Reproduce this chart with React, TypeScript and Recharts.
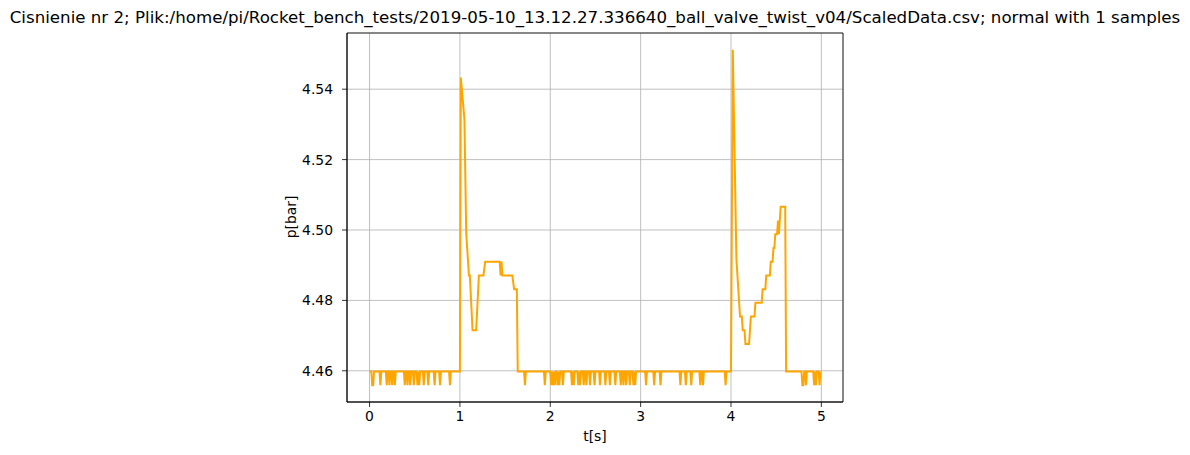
import React from "react";
import {
  LineChart,
  Line,
  XAxis,
  YAxis,
  CartesianGrid,
  ReferenceArea,
} from "recharts";

// pressure levels (sensor steps of ~0.0039 bar)
const BASE = 4.4598;
const LOW = 4.4559;

// times of the one-sample dips on the resting baseline
const dipTimes = [
  0.03, 0.04, 0.12, 0.19, 0.22, 0.25, 0.28, 0.39, 0.42, 0.45, 0.49, 0.53,
  0.55, 0.6, 0.65, 0.72, 0.78, 0.89,
  1.72, 1.94, 2.01, 2.03, 2.05, 2.08, 2.1, 2.14, 2.24, 2.26, 2.31, 2.33,
  2.37, 2.4, 2.44, 2.49, 2.55, 2.61, 2.66, 2.72, 2.78, 2.81, 2.84, 2.88,
  2.92, 2.94, 3.06, 3.15, 3.22, 3.44, 3.5, 3.56, 3.66, 3.69, 3.94,
  4.79, 4.8, 4.83, 4.92, 4.94, 4.98,
];

// first valve opening (~1 s)
const event1Times = [
  1.0, 1.01, 1.05, 1.07, 1.1, 1.11, 1.14, 1.18, 1.21, 1.26, 1.28, 1.44,
  1.45, 1.46, 1.47, 1.58, 1.6, 1.63, 1.64,
];
const event1Values = [
  BASE, 4.5433, 4.5315, 4.499, 4.4871, 4.4871, 4.4715, 4.4715, 4.4871,
  4.4871, 4.491, 4.491, 4.4871, 4.491, 4.4871, 4.4871, 4.4832, 4.4832, BASE,
];

// second valve opening (~4 s)
const event2Times = [
  4.0, 4.02, 4.06, 4.1, 4.12, 4.13, 4.15, 4.16, 4.2, 4.22, 4.26, 4.27, 4.34,
  4.35, 4.38, 4.39, 4.43, 4.44, 4.46, 4.47, 4.48, 4.49, 4.51, 4.52, 4.53,
  4.54, 4.55, 4.6, 4.61,
];
const event2Values = [
  BASE, 4.5512, 4.4917, 4.4754, 4.4754, 4.4715, 4.4715, 4.4676, 4.4676,
  4.4754, 4.4754, 4.4793, 4.4793, 4.4832, 4.4832, 4.4871, 4.4871, 4.491,
  4.491, 4.4949, 4.4949, 4.4988, 4.4988, 4.5027, 4.4988, 4.5027, 4.5066,
  4.5066, BASE,
];

const startTime = 0;
const endTime = 4.99;

const xTicks = [0, 1, 2, 3, 4, 5];
const yTicks = [4.46, 4.48, 4.5, 4.52, 4.54];

const TITLE =
  "Cisnienie nr 2; Plik:/home/pi/Rocket_bench_tests/2019-05-10_13.12.27.336640_ball_valve_twist_v04/ScaledData.csv; normal with 1 samples";

function buildData() {
  const pts = new Map<number, number>();
  const key = (t: number) => Math.round(t * 100);
  pts.set(key(startTime), BASE);
  pts.set(key(endTime), BASE);
  const dipKeys = new Set(dipTimes.map(key));
  dipTimes.forEach((t) => {
    [key(t) - 1, key(t) + 1].forEach((k) => {
      if (!dipKeys.has(k)) pts.set(k, BASE);
    });
  });
  dipTimes.forEach((t) => pts.set(key(t), LOW));
  event1Times.forEach((t, i) => pts.set(key(t), event1Values[i]));
  event2Times.forEach((t, i) => pts.set(key(t), event2Values[i]));
  return Array.from(pts.entries())
    .sort((a, b) => a[0] - b[0])
    .map(([k, p]) => ({ t: k / 100, p }));
}

const data = buildData();

const allP = data.map((d) => d.p);
const pMin = Math.min(...allP);
const pMax = Math.max(...allP);
const pPad = (pMax - pMin) * 0.05;
const tPad = (endTime - startTime) * 0.05;
const xDomain = [startTime - tPad, endTime + tPad];
const yDomain = [pMin - pPad, pMax + pPad];

const FONT = "DejaVu Sans, sans-serif";
const tickStyle = { fontFamily: FONT, fontSize: 13.9, fill: "#000" };

export default function App() {
  return (
    <div
      style={{
        position: "absolute",
        left: 0,
        top: 0,
        width: 1190,
        height: 455,
        background: "#fff",
      }}
    >
      <LineChart
        width={1190}
        height={455}
        data={data}
        margin={{ top: 33, right: 347, bottom: 23, left: 287 }}
      >
        <CartesianGrid stroke="#b0b0b0" strokeWidth={0.8} />
        <XAxis
          dataKey="t"
          type="number"
          domain={xDomain}
          ticks={xTicks}
          allowDataOverflow
          height={30}
          tickSize={5}
          tickMargin={4}
          tick={tickStyle}
          stroke="#000"
          strokeWidth={0.8}
        />
        <YAxis
          type="number"
          domain={yDomain}
          ticks={yTicks}
          allowDataOverflow
          width={60}
          tickSize={5}
          tickMargin={9}
          tick={tickStyle}
          tickFormatter={(v: number) => v.toFixed(2)}
          stroke="#000"
          strokeWidth={0.8}
        />
        <Line
          type="linear"
          dataKey="p"
          stroke="#ffa500"
          strokeWidth={2}
          dot={false}
          isAnimationActive={false}
        />
        <ReferenceArea
          x1={xDomain[0]}
          x2={xDomain[1]}
          y1={yDomain[0]}
          y2={yDomain[1]}
          fill="none"
          fillOpacity={0}
          stroke="#000"
          strokeWidth={0.8}
          ifOverflow="visible"
        />
      </LineChart>
      <svg
        width={1190}
        height={455}
        style={{ position: "absolute", left: 0, top: 0, pointerEvents: "none" }}
      >
        <text
          x={595}
          y={23}
          textAnchor="middle"
          fontFamily={FONT}
          fontSize={16.67}
          fill="#000"
        >
          {TITLE}
        </text>
        <text
          x={595}
          y={441}
          textAnchor="middle"
          fontFamily={FONT}
          fontSize={13.9}
          fill="#000"
        >
          t[s]
        </text>
        <text
          x={296}
          y={217}
          textAnchor="middle"
          transform="rotate(-90 296 217)"
          fontFamily={FONT}
          fontSize={13.9}
          fill="#000"
        >
          p[bar]
        </text>
      </svg>
    </div>
  );
}
